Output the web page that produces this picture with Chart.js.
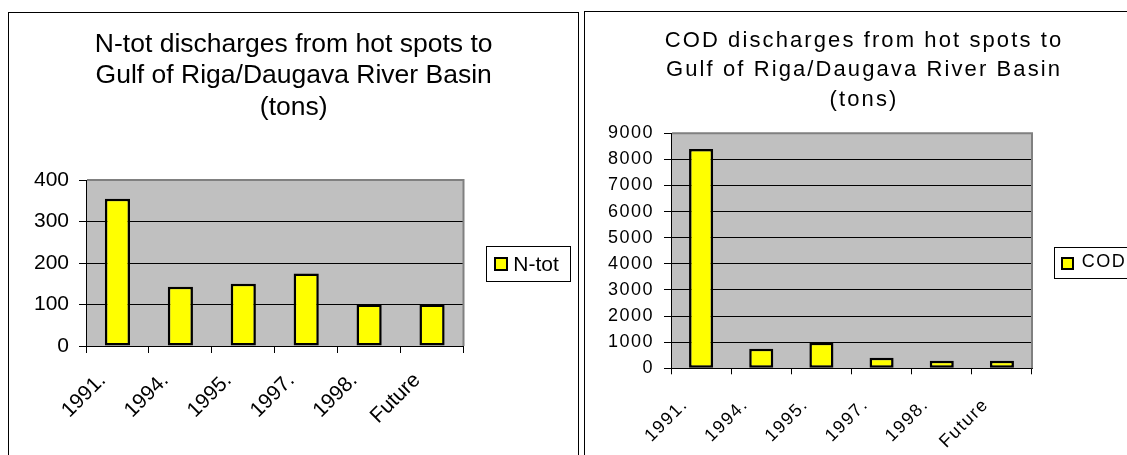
<!DOCTYPE html>
<html><head><meta charset="utf-8">
<script src="https://cdn.jsdelivr.net/npm/chart.js@4/dist/chart.umd.min.js"></script>
<style>
html,body{margin:0;padding:0;width:1127px;height:455px;overflow:hidden;background:#fff;}
.panel{position:absolute;border:1px solid #000;box-sizing:border-box;}
#p1{left:8px;top:12px;width:571px;height:460px;}
#p2{left:584px;top:11px;width:560px;height:460px;}
.wrap{position:absolute;}
#w1{left:9px;top:13px;width:568px;height:442px;}
#w2{left:585px;top:12px;width:542px;height:443px;}
</style></head><body>
<div class="panel" id="p1"></div><div class="panel" id="p2"></div>
<div class="wrap" id="w1"><canvas id="c1" width="568" height="442"></canvas></div>
<div class="wrap" id="w2"><canvas id="c2" width="542" height="443"></canvas></div>
<script>
const categories = ['1991.', '1994.', '1995.', '1997.', '1998.', 'Future'];
const nTotValues = [355, 143, 150, 175, 100, 100];
const codValues = [8400, 750, 980, 400, 290, 290];
const nTotYTicks = [0, 100, 200, 300, 400];
const codYTicks = [0, 1000, 2000, 3000, 4000, 5000, 6000, 7000, 8000, 9000];
const nTotTitle = ['N-tot discharges from hot spots to', 'Gulf of Riga/Daugava River Basin', '(tons)'];
const codTitle = ['COD discharges from hot spots to', 'Gulf of Riga/Daugava River Basin', '(tons)'];
const nTotLabel = 'N-tot';
const codLabel = 'COD';

const FAMILY = '"Liberation Sans", Arial, sans-serif';
const YELLOW = '#FFFF00';

const decor = {
  id: 'decor',
  beforeLayout(chart, args, o) { chart.ctx.letterSpacing = o.ls + 'px'; },
  beforeDraw(chart, args, o) {
    const ctx = chart.ctx, a = chart.chartArea;
    ctx.save();
    ctx.fillStyle = '#C0C0C0';
    ctx.fillRect(a.left, a.top, a.right - a.left, a.bottom - a.top);
    ctx.restore();
    ctx.letterSpacing = o.ls + 'px';
  },
  afterDraw(chart, args, o) {
    const ctx = chart.ctx, a = chart.chartArea;
    ctx.save();
    ctx.strokeStyle = '#808080';
    ctx.lineWidth = 2;
    ctx.beginPath();
    ctx.moveTo(a.left + 1, a.top);
    ctx.lineTo(a.right, a.top);
    ctx.lineTo(a.right, a.bottom);
    ctx.stroke();
    // title
    ctx.fillStyle = '#000';
    ctx.font = o.titleSize + 'px ' + FAMILY;
    ctx.letterSpacing = o.titleLS + 'px';
    ctx.textAlign = 'center';
    ctx.textBaseline = 'alphabetic';
    o.title.forEach((t, i) => ctx.fillText(t, o.titleX, o.titleY + i * o.titleDY));
    // legend
    const L = o.legend;
    ctx.lineWidth = 1;
    ctx.strokeStyle = '#000';
    ctx.strokeRect(L.x + 0.5, L.y + 0.5, L.w, L.h);
    const ds = chart.data.datasets[0];
    ctx.fillStyle = '#000';
    ctx.fillRect(L.sx, L.sy, L.ss, L.ss);
    ctx.fillStyle = ds.backgroundColor;
    ctx.fillRect(L.sx + 2, L.sy + 2, L.ss - 4, L.ss - 4);
    ctx.fillStyle = '#000';
    ctx.font = L.fs + 'px ' + FAMILY;
    ctx.letterSpacing = o.ls + 'px';
    ctx.textAlign = 'left';
    ctx.fillText(ds.label, L.tx, L.ty);
    ctx.restore();
  }
};

function makeChart(id, values, label, yTicks, cfg) {
  return new Chart(document.getElementById(id), {
    type: 'bar',
    data: {
      labels: categories,
      datasets: [{
        label: label,
        data: values,
        backgroundColor: YELLOW,
        borderColor: '#000',
        borderWidth: 2.5,
        borderSkipped: false,
        categoryPercentage: 1,
        barPercentage: 0.4
      }]
    },
    plugins: [decor],
    options: {
      responsive: false,
      devicePixelRatio: 1,
      animation: false,
      layout: { padding: { top: cfg.padTop, right: cfg.padRight, left: 0, bottom: 0 } },
      plugins: {
        legend: { display: false },
        title: { display: false },
        tooltip: { enabled: false },
        decor: cfg.decor
      },
      scales: {
        x: {
          grid: { offset: true, drawOnChartArea: false, drawTicks: true, tickLength: cfg.xTick, color: '#000', lineWidth: 1 },
          border: { color: '#000', width: 1 },
          ticks: {
            color: '#000', font: { family: FAMILY, size: cfg.fs },
            minRotation: 45, maxRotation: 45, autoSkip: false,
            padding: cfg.xPad, labelOffset: cfg.xOff
          },
          afterFit(s) { s.height = cfg.xH; }
        },
        y: {
          min: yTicks[0], max: yTicks[yTicks.length - 1],
          grid: { color: '#000', lineWidth: 1, tickLength: 7 },
          border: { color: '#000', width: 1 },
          ticks: {
            stepSize: yTicks[1] - yTicks[0],
            callback: (v) => String(v),
            color: '#000', font: { family: FAMILY, size: cfg.fs }, padding: 10
          },
          afterFit(s) { s.width = cfg.yW; }
        }
      }
    }
  });
}

makeChart('c1', nTotValues, nTotLabel, nTotYTicks, {
  padTop: 167, padRight: 113.5, xH: 109, yW: 77, fs: 21, xTick: 7, xPad: 15, xOff: -15,
  decor: {
    ls: 0, title: nTotTitle, titleSize: 26.5, titleLS: 0, titleX: 284.7, titleY: 38.7, titleDY: 31.6,
    legend: { x: 477, y: 233, w: 84, h: 35, sx: 485, sy: 244, ss: 14, tx: 504.3, ty: 257.5, fs: 21 }
  }
});

makeChart('c2', codValues, codLabel, codYTicks, {
  padTop: 121.3, padRight: 95, xH: 86.7, yW: 86, fs: 18, xTick: 6, xPad: 20, xOff: -16,
  decor: {
    ls: 1.5, title: codTitle, titleSize: 22, titleLS: 2.1, titleX: 279, titleY: 34.5, titleDY: 29.5,
    legend: { x: 469, y: 235, w: 100, h: 31, sx: 476, sy: 245, ss: 13, tx: 496.7, ty: 255, fs: 18 }
  }
});
</script>
</body></html>
